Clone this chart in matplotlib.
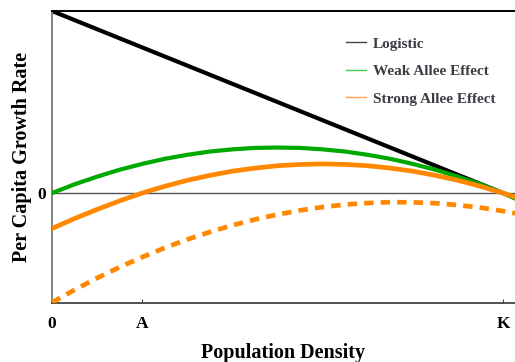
import numpy as np
import matplotlib.pyplot as plt
from matplotlib.lines import Line2D

# population density in units of K (A ~ 0.2 K), last point runs past K
density = [0.0, 0.05, 0.1, 0.15, 0.2, 0.25, 0.3, 0.35, 0.4, 0.45, 0.5,
           0.55, 0.6, 0.65, 0.7, 0.75, 0.8, 0.85, 0.9, 0.95, 1.0, 1.027]
logistic = [1.0, 0.95, 0.9, 0.85, 0.8, 0.75, 0.7, 0.65, 0.6, 0.55, 0.5,
            0.45, 0.4, 0.35, 0.3, 0.25, 0.2, 0.15, 0.1, 0.05, 0.0, -0.027]
weak = [0.0, 0.048, 0.09, 0.128, 0.16, 0.188, 0.21, 0.228, 0.24, 0.248, 0.25,
        0.248, 0.24, 0.228, 0.21, 0.188, 0.16, 0.128, 0.09, 0.048, 0.0, -0.03]
strong = [-0.195, -0.14, -0.09, -0.043, 0.0, 0.037, 0.07, 0.097, 0.12, 0.137, 0.15,
          0.157, 0.16, 0.157, 0.15, 0.137, 0.12, 0.097, 0.07, 0.037, 0.0, -0.022]
strong_low = [-0.601, -0.532, -0.467, -0.407, -0.352, -0.301, -0.255, -0.214, -0.177, -0.145, -0.118,
              -0.095, -0.077, -0.063, -0.055, -0.05, -0.051, -0.056, -0.066, -0.08, -0.099, -0.111]

xtick_pos = [0.0, 0.2, 1.0]
xtick_labels = ["0", "A", "K"]

plt.rcParams["font.family"] = ["Liberation Serif", "DejaVu Serif"]
plt.rcParams["font.weight"] = "bold"

fig = plt.figure(figsize=(5.15, 3.62), dpi=100)
ax = fig.add_axes([52 / 515, 59 / 362, 463 / 515, 292 / 362])

ax.axhline(0, color="#555555", lw=1.0, zorder=1)
ax.plot(density, logistic, color="black", lw=3.0, zorder=2)
ax.plot(density, weak, color="#00a800", lw=3.0, zorder=3)
ax.plot(density, strong, color="#ff8800", lw=3.4, zorder=4)
ax.plot(density, strong_low, color="#ff8800", lw=3.4, dashes=(2.0, 1.5), zorder=4)

ax.set_xlim(0, 1.0266)
ax.set_ylim(-0.604, 1.0)

ax.spines["right"].set_visible(False)
ax.spines["top"].set_color("black")
ax.spines["top"].set_linewidth(1.4)
ax.spines["left"].set_color("#808080")
ax.spines["left"].set_linewidth(1.4)
ax.spines["bottom"].set_color("#444444")
ax.spines["bottom"].set_linewidth(1.3)

ax.set_xticks(xtick_pos)
ax.set_xticklabels(xtick_labels, fontsize=12.5, fontweight="bold")
ax.tick_params(axis="x", direction="in", length=3, width=0.8, color="#444444", pad=9)
ax.set_yticks([0])
ax.set_yticklabels(["0"], fontsize=12.5, fontweight="bold")
ax.tick_params(axis="y", length=0, pad=4)

ax.set_xlabel("Population Density", fontsize=14.5, fontweight="bold", labelpad=8)
ax.set_ylabel("Per Capita Growth Rate", fontsize=14.5, fontweight="bold", labelpad=4)

handles = [
    Line2D([], [], color="#444444", lw=1.0),
    Line2D([], [], color="#44cc44", lw=1.0),
    Line2D([], [], color="#ffa050", lw=1.0),
]
leg = ax.legend(handles, ["Logistic", "Weak Allee Effect", "Strong Allee Effect"],
                loc="upper right", bbox_to_anchor=(0.975, 0.937), frameon=False, borderpad=0,
                fontsize=11, handlelength=1.3, handletextpad=0.46, labelspacing=0.9)
for t in leg.get_texts():
    t.set_color("#3c3c44")
    t.set_fontweight("bold")

fig.savefig("out.png", dpi=100)
